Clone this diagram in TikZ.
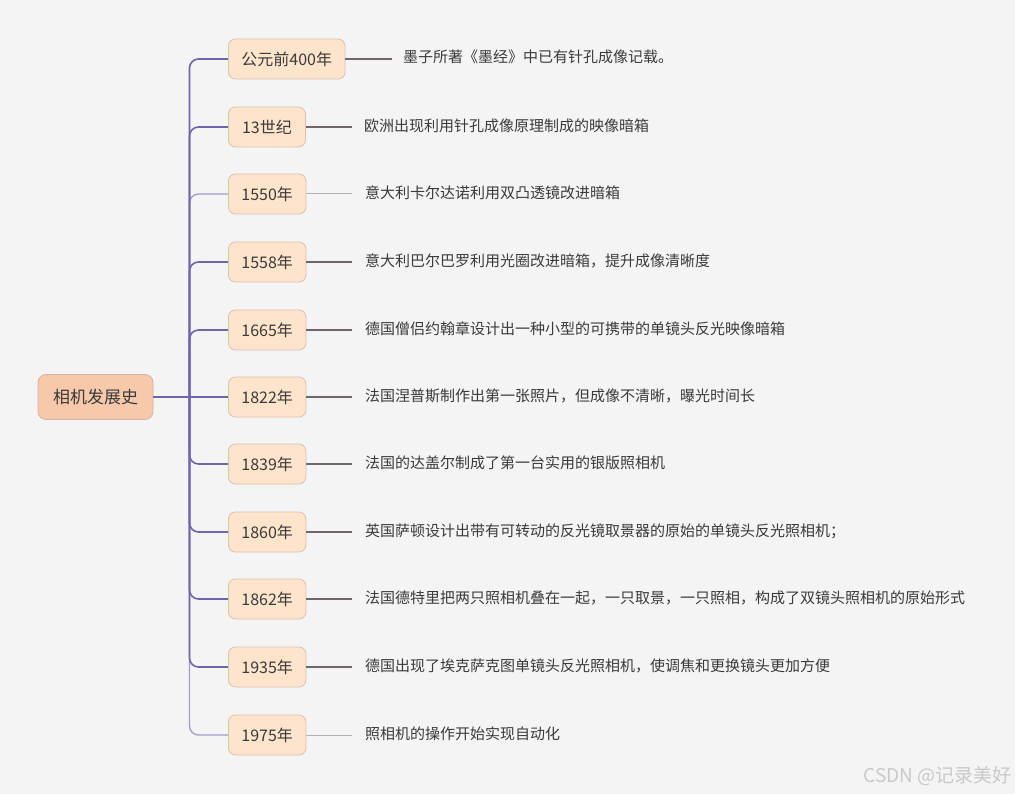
\documentclass[tikz,border=0pt]{standalone}
\usepackage{fontspec}
\setmainfont{Noto Sans CJK SC}
\definecolor{bg}{HTML}{F4F4F4}
\definecolor{rootfill}{HTML}{F7C9AA}
\definecolor{rootdraw}{HTML}{D8B2A0}
\definecolor{boxfill}{HTML}{FFE4CC}
\definecolor{boxdraw}{HTML}{DCC0B0}
\definecolor{trunkcol}{HTML}{6F65AE}
\definecolor{trunklight}{HTML}{A29CCB}
\definecolor{leafcol}{HTML}{6E6966}
\definecolor{leaflight}{HTML}{B5B1B1}
\definecolor{txt}{HTML}{3A3A3A}
\definecolor{wm}{HTML}{C9C9C9}
\tikzset{
  rootbox/.style={draw=rootdraw, fill=rootfill, rounded corners=8pt, line width=0.8pt,
    minimum width=115pt, minimum height=45pt, inner sep=0pt, text=txt, font=\fontsize{17}{20}\selectfont},
  yearbox/.style={draw=boxdraw, fill=boxfill, rounded corners=7pt, line width=0.8pt,
    minimum width=77pt, minimum height=40pt, inner xsep=13pt, inner ysep=0pt, text=txt, font=\fontsize{16}{19}\selectfont},
  desc/.style={anchor=west, inner sep=0pt, text=txt, font=\fontsize{15}{18}\selectfont},
  branch/.style={draw=trunkcol, line width=1.6pt, rounded corners=9pt},
  branchlt/.style={draw=trunklight, line width=1.3pt, rounded corners=9pt},
  leaf/.style={draw=leafcol, line width=1.3pt},
  leaflt/.style={draw=leaflight, line width=1pt},
}
\begin{document}
\begin{tikzpicture}[x=1pt,y=-1pt]
\fill[bg] (0,0) rectangle (1015,794);
\useasboundingbox (0,0) rectangle (1015,794);

\node[rootbox] (root) at (95.5,397) {相机发展史};
\coordinate (trunk) at (189.5,397);

\node[yearbox, anchor=west] (y1) at (228,59) {公元前400年};
\node[yearbox, anchor=west] (y2) at (228,127) {13世纪};
\node[yearbox, anchor=west] (y3) at (228,194) {1550年};
\node[yearbox, anchor=west] (y4) at (228,262) {1558年};
\node[yearbox, anchor=west] (y5) at (228,330) {1665年};
\node[yearbox, anchor=west] (y6) at (228,397) {1822年};
\node[yearbox, anchor=west] (y7) at (228,464) {1839年};
\node[yearbox, anchor=west] (y8) at (228,532) {1860年};
\node[yearbox, anchor=west] (y9) at (228,599) {1862年};
\node[yearbox, anchor=west] (y10) at (228,667) {1935年};
\node[yearbox, anchor=west] (y11) at (228,735) {1975年};

\node[desc] (d1) at (403,57) {墨子所著《墨经》中已有针孔成像记载。};
\node[desc] (d2) at (364,126) {欧洲出现利用针孔成像原理制成的映像暗箱};
\node[desc] (d3) at (365,193) {意大利卡尔达诺利用双凸透镜改进暗箱};
\node[desc] (d4) at (365,261) {意大利巴尔巴罗利用光圈改进暗箱，提升成像清晰度};
\node[desc] (d5) at (365,329) {德国僧侣约翰章设计出一种小型的可携带的单镜头反光映像暗箱};
\node[desc] (d6) at (365,396) {法国涅普斯制作出第一张照片，但成像不清晰，曝光时间长};
\node[desc] (d7) at (365,463) {法国的达盖尔制成了第一台实用的银版照相机};
\node[desc] (d8) at (365,531) {英国萨顿设计出带有可转动的反光镜取景器的原始的单镜头反光照相机；};
\node[desc] (d9) at (365,598) {法国德特里把两只照相机叠在一起，一只取景，一只照相，构成了双镜头照相机的原始形式};
\node[desc] (d10) at (365,666) {德国出现了埃克萨克图单镜头反光照相机，使调焦和更换镜头更加方便};
\node[desc] (d11) at (365,734) {照相机的操作开始实现自动化};

% light branches first, dark ones over them
\draw[branchlt] (trunk) |- (y3.west);
\draw[branchlt] (trunk) |- (y11.west);
\draw[branch] (trunk) |- (y1.west);
\draw[branch] (trunk) |- (y2.west);
\draw[branch] (trunk) |- (y4.west);
\draw[branch] (trunk) |- (y5.west);
\draw[branch] (trunk) |- (y7.west);
\draw[branch] (trunk) |- (y8.west);
\draw[branch] (trunk) |- (y9.west);
\draw[branch] (trunk) |- (y10.west);
\draw[branch] (root.east) -- (y6.west);

% leaves
\draw[leaf] (y1.east) -- ([xshift=-11pt]d1.west |- y1.east);
\draw[leaf] (y2.east) -- ([xshift=-12pt]d2.west |- y2.east);
\draw[leaflt] (y3.east) -- ([xshift=-13pt]d3.west |- y3.east);
\draw[leaf] (y4.east) -- ([xshift=-13pt]d4.west |- y4.east);
\draw[leaf] (y5.east) -- ([xshift=-13pt]d5.west |- y5.east);
\draw[leaf] (y6.east) -- ([xshift=-13pt]d6.west |- y6.east);
\draw[leaf] (y7.east) -- ([xshift=-13pt]d7.west |- y7.east);
\draw[leaf] (y8.east) -- ([xshift=-13pt]d8.west |- y8.east);
\draw[leaf] (y9.east) -- ([xshift=-13pt]d9.west |- y9.east);
\draw[leaf] (y10.east) -- ([xshift=-13pt]d10.west |- y10.east);
\draw[leaflt] (y11.east) -- ([xshift=-13pt]d11.west |- y11.east);

\node[anchor=east, inner sep=0pt, text=wm, font=\fontsize{19}{22}\selectfont] (wmk) at (1012,776) {CSDN @记录美好};
\end{tikzpicture}
\end{document}
